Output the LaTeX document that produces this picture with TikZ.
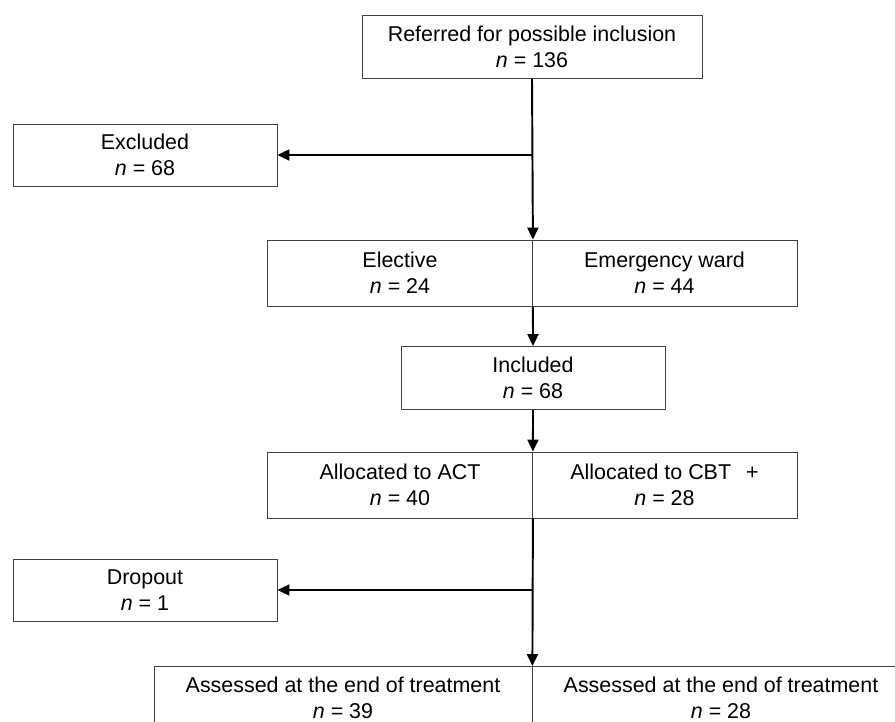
\documentclass[tikz,border=0pt]{standalone}
\usepackage{fontspec}
\setmainfont{Liberation Sans}
\usetikzlibrary{arrows.meta,positioning}

\begin{document}
\begin{tikzpicture}[
    x=0.02cm, y=-0.02cm,
    box/.style={draw=black!75, line width=0.5pt, minimum height=1.26cm, inner sep=0pt,
                font=\fontsize{12.2}{15}\selectfont, align=center},
    pair/.style={box, minimum width=5.3cm, minimum height=1.32cm},
    side/.style={box, minimum width=5.28cm, minimum height=1.24cm},
    arr/.style={-{Triangle[length=0.24cm, width=0.22cm]}, line width=1.1pt}
]
\useasboundingbox (0,0) rectangle (895,722);
\clip (0,0) rectangle (895,722);
\node[box, minimum width=6.8cm] (ref) at (532,47) {Referred for possible inclusion\\\textit{n} = 136};
\node[side] (excl) at (145,155) {Excluded\\\textit{n} = 68};
\node[pair] (elec) at (400,273) {Elective\\\textit{n} = 24};
\node[pair] (emer) at (664.5,273) {Emergency ward\\\textit{n} = 44};
\node[box, minimum width=5.28cm] (incl) at (533,378) {Included\\\textit{n} = 68};
\node[pair] (act) at (400,485) {Allocated to ACT\\\textit{n} = 40};
\node[pair] (cbt) at (664.5,485) {Allocated to CBT\hspace{0.7em}+\\\textit{n} = 28};
\node[side] (drop) at (145,590) {Dropout\\\textit{n} = 1};
\node[box, minimum width=7.56cm] (endact) at (343,698) {Assessed at the end of treatment\\\textit{n} = 39};
\node[box, minimum width=7.56cm] (endcbt) at (721,698) {Assessed at the end of treatment\\\textit{n} = 28};

\draw[arr] (ref.south) -- (elec.north east);
\draw[arr] (excl.east -| ref.south) -- (excl.east);
\draw[arr] (elec.south east) -- (incl.north);
\draw[arr] (incl.south) -- (act.north east);
\draw[arr] (act.south east) -- (endact.north east);
\draw[arr] (drop.east -| act.south east) -- (drop.east);
\end{tikzpicture}
\end{document}
